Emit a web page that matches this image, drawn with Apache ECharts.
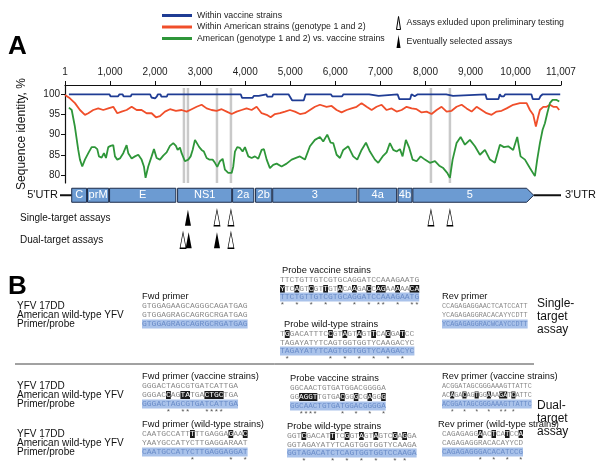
<!DOCTYPE html>
<html><head><meta charset="utf-8">
<script src="https://cdn.jsdelivr.net/npm/echarts@6/dist/echarts.min.js"></script>
<style>html,body{margin:0;padding:0;background:#fff}#c{width:600px;height:470px}</style>
</head><body><div id="c"></div>
<script>
// ---------- Panel A data ----------
const xTicks = [1, 1000, 2000, 3000, 4000, 5000, 6000, 7000, 8000, 9000, 10000, 11007];
const yTicks = [80, 85, 90, 95, 100];
const seriesNames = ['Within vaccine strains', 'Within American strains (genotype 1 and 2)', 'American (genotype 1 and 2) vs. vaccine strains'];
const withinVaccine = [[88,100],[990,100],[1010,99.5],[1180,99.5],[1210,100],[1280,100],[1300,99.5],[1460,99.5],[1480,100],[1890,100],[1920,99.2],[2000,99.0],[2040,99.5],[2060,100],[2120,100],[2140,99.4],[2260,99.4],[2280,100],[3900,100],[3930,99.1],[4160,99.1],[4190,99.6],[4300,99.6],[4330,100],[4470,100],[4490,99.4],[4600,99.4],[4620,100],[4960,100],[5000,99.6],[5040,98.5],[5300,98.5],[5340,100],[5900,100],[5930,99.5],[6150,99.5],[6180,100],[6750,100],[6780,99.6],[6960,99.6],[6990,100],[7380,100],[7420,98.8],[7660,98.8],[7690,100],[7730,100],[7760,99.5],[7800,99.6],[7830,100],[8460,100],[8490,99.6],[8610,99.6],[8640,100],[9330,100],[9360,98.8],[9620,98.8],[9650,100],[9680,99.5],[9740,99.5],[9770,100],[10350,100],[10380,98.8],[10520,98.8],[10550,99.5],[10600,100],[10990,100]];
const withinAmerican = [[1,99.8],[110,99],[222,97.8],[333,96.1],[443,94.9],[518,95.3],[628,96.1],[739,96.5],[850,96.1],[961,96.5],[1072,96.9],[1161,95.3],[1257,95.7],[1368,96.1],[1480,96.9],[1591,96.1],[1700,96.1],[1812,95.3],[1923,95.3],[2019,94.3],[2108,94.6],[2219,95.7],[2330,96.3],[2462,95.9],[2589,96.1],[2700,95.7],[2811,96.3],[2922,96.9],[3032,97.4],[3144,96.5],[3254,96.1],[3366,95.9],[3477,96.3],[3588,95.7],[3699,95.1],[3809,95.7],[3920,96.1],[4030,96.5],[4142,96.1],[4253,96.9],[4364,95.3],[4476,94.9],[4564,94.3],[4660,95.1],[4770,95.3],[4882,95.7],[4992,96.1],[5103,95.7],[5214,95.1],[5325,95.3],[5436,96.1],[5547,96.9],[5658,97.4],[5805,96.9],[5917,97.1],[6028,96.1],[6138,95.5],[6250,96.1],[6360,96.5],[6472,96.9],[6582,97.8],[6694,96.9],[6805,96.1],[6915,96.9],[7027,97.4],[7138,96.1],[7249,96.5],[7359,95.7],[7470,96.1],[7581,96.9],[7692,96.5],[7803,96.3],[7914,95.5],[8025,95.7],[8135,95.1],[8247,96.1],[8357,96.9],[8469,95.7],[8580,95.9],[8690,96.9],[8802,97.4],[8912,96.5],[9023,95.7],[9134,96.9],[9245,96.1],[9355,95.3],[9467,94.9],[9578,95.7],[9689,95.9],[9800,96.5],[9946,97.4],[10095,97.8],[10244,97.8],[10317,96.1],[10391,94.9],[10450,92],[10501,94.5],[10539,96.1],[10613,96.9],[10687,96.9],[10760,97.4],[10835,96.9],[10910,96.9],[10968,96.1]];
const americanVsVaccine = [[88,96.7],[150,96.1],[220,92],[295,86.2],[333,83.8],[384,82.1],[443,83.8],[518,85.4],[592,86.9],[665,86.9],[717,86.4],[754,84.6],[814,84.3],[865,85.4],[910,84.2],[961,86.9],[1013,87.2],[1072,87.4],[1110,84.6],[1161,83.8],[1220,84.1],[1294,85.4],[1368,87.4],[1405,85.4],[1480,84.1],[1553,84.6],[1627,85],[1700,83.8],[1752,82.1],[1789,79.3],[1848,82.1],[1923,84.6],[1975,86.4],[2034,84.2],[2108,83.8],[2181,84.8],[2256,85.6],[2330,87.2],[2403,87.9],[2462,87.2],[2500,86.2],[2552,86.8],[2589,85.4],[2662,83.4],[2736,83.8],[2789,84.6],[2833,86.2],[2885,88.7],[2922,88.5],[2980,86.9],[3032,86.2],[3083,85.8],[3144,84.2],[3201,83.8],[3277,83.8],[3328,83],[3379,82],[3439,83.4],[3499,84],[3550,81.3],[3623,80.5],[3699,80.5],[3735,82.1],[3772,85.8],[3823,86.9],[3883,86.7],[3942,85.8],[3994,86.9],[4068,84.6],[4142,84.2],[4215,84.6],[4290,84],[4364,86.2],[4415,86.4],[4476,83.8],[4548,81.7],[4621,82.5],[4697,82.8],[4807,82.1],[4918,82.8],[5030,83.8],[5140,84.3],[5214,84.6],[5325,83.8],[5436,87.1],[5547,88.7],[5658,89.4],[5731,88.3],[5820,90],[5895,88],[5953,87.9],[6028,85],[6102,84.2],[6175,86.2],[6286,87.1],[6396,84.6],[6486,83.8],[6582,86.2],[6679,88],[6767,85.8],[6878,83.8],[6952,83],[7049,84.6],[7138,85.6],[7211,87.9],[7285,86.2],[7359,85.8],[7433,86.4],[7492,84.6],[7565,88.7],[7640,86.7],[7714,83.8],[7803,83.4],[7892,84.6],[7987,83.8],[8098,83],[8210,83.4],[8305,82.3],[8394,81.7],[8482,80.5],[8542,79.3],[8602,83.8],[8690,87.9],[8780,89.4],[8875,87.5],[8986,88.7],[9097,87.1],[9208,85],[9319,86.2],[9430,83.8],[9540,83],[9652,87.5],[9740,86.9],[9836,87.1],[9946,86.2],[10036,89.4],[10110,84.6],[10207,83.8],[10317,81.7],[10428,79.7],[10479,83.8],[10539,87.9],[10599,91.2],[10650,92.8],[10702,95.3],[10760,97.8],[10820,98.6],[10910,98.6],[10968,98.2]];
const geneNames = ['C', 'prM', 'E', 'NS1', '2a', '2b', '3', '4a', '4b', '5'];
const geneStarts = [150, 500, 990, 2500, 3720, 4230, 4610, 6520, 7390, 7720];
const geneEnds = [480, 970, 2460, 3700, 4190, 4590, 6480, 7360, 7700, 10400];
const genomeEnd = 11007;
const utrLabels = ["5'UTR", "3'UTR"];
const assayPositions = [2640, 2729, 3373, 3683, 8121, 8542];
const assayRows = ['map', 'Single-target assays', 'Dual-target assays'];
const singleOpen = [3373, 3683, 8121, 8542];
const singleFilled = [2729];
const dualOpen = [2620, 3683];
const dualFilled = [2745, 3373];
const markerNames = ['Assays exluded upon preliminary testing', 'Eventually selected assays'];

// ---------- Panel B data ----------
const rowLabels = ['YFV 17DD', 'American wild-type YFV', 'Primer/probe'];
const sFwdTitle = 'Fwd primer';
const sFwdRows = ['GTGGAGAAGCAGGGCAGATGAG', 'GTGGAGRAGCAGRGCRGATGAG', 'GTGGAGRAGCAGRGCRGATGAG'];
const sFwdMarks = [];
const sProbeVTitle = 'Probe vaccine strains';
const sProbeVRows = ['TTCTGTTGTCGTGCAGGATCCAAAGAATG', 'YTCAGTCGTTGTACAAGACCAGAAAAACA', 'TTCTGTTGTCGTGCAGGATCCAAAGAATG'];
const sProbeVMarks = [0, 3, 6, 9, 12, 15, 18, 20, 21, 24, 27, 28];
const sProbeWTitle = 'Probe wild-type strains';
const sProbeWRows = ['TGGACATTTCCGTAGTAGTTCAGGATCC', 'TAGAYATYTCAGTGGTGGTYCAAGACYC', 'TAGAYATYTCAGTGGTGGTYCAAGACYC'];
const sProbeWMarks = [1, 10, 13, 16, 19, 22, 25];
const sRevTitle = 'Rev primer';
const sRevRows = ['CCAGAGAGGAACTCATCCATT', 'YCAGAGAGGRACACAYYCDTT', 'YCAGAGAGGRACWCAYCCDTT'];
const sRevMarks = [];
const dFwdVTitle = 'Fwd primer (vaccine strains)';
const dFwdVRows = ['GGGACTAGCGTGATCATTGA', 'GGGACCAGTATGACTGCTGA', 'GGGACTAGCGTGATCATTGA'];
const dFwdVMarks = [5, 8, 9, 13, 14, 15, 16];
const dProbeVTitle = 'Probe vaccine strains';
const dProbeVRows = ['GGCAACTGTGATGGACGGGGA', 'GGAGGTTGTGACGGGCGAGGG', 'GGCAACTGTGATGGACGGGGA'];
const dProbeVMarks = [2, 3, 4, 5, 11, 14, 17, 20];
const dRevVTitle = 'Rev primer (vaccine strains)';
const dRevVRows = ['ACGGATAGCGGGAAAGTTATTC', 'ACAGACAGTGGAAAGATCATTC', 'ACGGATAGCGGGAAAGTTATTC'];
const dRevVMarks = [2, 5, 8, 11, 14, 15, 17];
const dFwdWTitle = 'Fwd primer (wild-type strains)';
const dFwdWRows = ['CAATGCCATTTTTGAGGAGAAC', 'YAAYGCCATYCTTGAGGARAAT', 'CAATGCCATYCTTGAGGAGGAT'];
const dFwdWMarks = [10, 18, 21];
const dProbeWTitle = 'Probe wild-type strains';
const dProbeWRows = ['GGTCGACATTTCGGTAGTAGTCGAGGA', 'GGTAGAYATYTCAGTGGTGGTYCAAGA', 'GGTAGACATCTCAGTGGTGGTCCAAGA'];
const dProbeWMarks = [3, 9, 12, 15, 18, 22, 24];
const dRevWTitle = 'Rev primer (wild-type strains)';
const dRevWRows = ['CAGAGAGGAACTCATCCA', 'CAGAGAGGRACACAYYCD', 'CAGAGAGGGACACATCCG'];
const dRevWMarks = [8, 11, 14, 17];
const singleAssayText = 'Single-\ntarget\nassay';
const dualAssayText = 'Dual-\ntarget\nassay';

// ---------- build ----------
const SANS = '"Liberation Sans", Arial, sans-serif';
const MONO = '"Liberation Mono", "DejaVu Sans Mono", monospace';
const lineColors = ['#1f3c94', '#f04e2a', '#2e9639'];
const TRI = 'path://M5,0L10,32L0,32Z';

function seqRich(seq, marks, base) {
  let out = '', cur = '', curT = null;
  for (let i = 0; i < seq.length; i++) {
    const t = marks.includes(i) ? 'h' : base;
    if (t !== curT && cur) { out += '{' + curT + '|' + cur + '}'; cur = ''; }
    curT = t; cur += seq[i];
  }
  if (cur) out += '{' + curT + '|' + cur + '}';
  return out;
}
function starLine(len, marks) {
  let s = '';
  for (let i = 0; i < len; i++) s += marks.includes(i) ? '*' : ' ';
  return s;
}
function richStyles(fs) {
  return {
    n: { fill: '#8a8a8a', fontFamily: MONO, fontSize: fs, lineHeight: 9 },
    h: { fill: '#ffffff', backgroundColor: '#1b1b1b', fontFamily: MONO, fontSize: fs, lineHeight: 9 },
    b: { fill: '#6a8cc8', fontFamily: MONO, fontSize: fs, lineHeight: 9 }
  };
}
const graphics = [];
function txt(x, y, text, font, fill, extra) {
  graphics.push({ type: 'text', x: x, y: y, silent: true,
    style: Object.assign({ text: text, font: font, fill: fill || '#111', verticalAlign: 'middle' }, extra || {}) });
}
function block(x, titleX, titleY, rowYs, starY, title, rows, marks, hlRow, fs) {
  txt(titleX, titleY, title, '9.3px ' + SANS, '#111');
  rows.forEach((r, i) => {
    const base = i === 2 ? 'b' : 'n';
    const m = i === hlRow ? marks : [];
    const extra = { rich: richStyles(fs) };
    if (i === 2) { extra.backgroundColor = '#a9c2ea'; }
    txt(x, rowYs[i], seqRich(r, m, base), fs + 'px ' + MONO, '#8a8a8a', extra);
  });
  if (marks.length && starY) {
    txt(x, starY, starLine(rows[0].length, marks), fs + 'px ' + MONO, '#555');
  }
}
// panel letters
txt(8, 47, 'A', 'bold 26px ' + SANS, '#000');
txt(8, 287, 'B', 'bold 26px ' + SANS, '#000');
// left labels
[[306, 315, 324], [386, 395, 404], [434, 443, 452]].forEach(ys => {
  rowLabels.forEach((l, i) => txt(17, ys[i], l, '10px ' + SANS, '#111'));
});
// single-target blocks
block(142, 142, 296, [306, 315, 324], null, sFwdTitle, sFwdRows, sFwdMarks, -1, 8);
block(280, 282, 270, [280, 289, 297], 305, sProbeVTitle, sProbeVRows, sProbeVMarks, 1, 8);
block(280, 284, 324, [334, 343, 351], 359, sProbeWTitle, sProbeWRows, sProbeWMarks, 0, 8);
block(442, 442, 296, [306, 315, 324], null, sRevTitle, sRevRows, sRevMarks, -1, 6.8);
// dual-target blocks
block(142, 142, 376, [386, 395, 404], 412, dFwdVTitle, dFwdVRows, dFwdVMarks, 1, 8);
block(290, 290, 378, [388, 397, 406], 414, dProbeVTitle, dProbeVRows, dProbeVMarks, 1, 7.6);
block(442, 442, 376, [386, 395, 404], 412, dRevVTitle, dRevVRows, dRevVMarks, 1, 6.8);
block(142, 142, 424, [434, 443, 452], 460, dFwdWTitle, dFwdWRows, dFwdWMarks, 0, 8);
block(287, 287, 426, [436, 445, 453], 461, dProbeWTitle, dProbeWRows, dProbeWMarks, 0, 8);
block(442, 438, 424, [434, 443, 452], 460, dRevWTitle, dRevWRows, dRevWMarks, 0, 7.5);
// side labels
txt(537, 317, singleAssayText, '12px ' + SANS, '#111', { lineHeight: 13 });
txt(537, 419, dualAssayText, '12px ' + SANS, '#111', { lineHeight: 13 });
// divider
graphics.push({ type: 'line', silent: true, shape: { x1: 15, y1: 364, x2: 534, y2: 364 }, style: { stroke: '#444', lineWidth: 1 } });

const fmt = v => Number(v).toLocaleString('en-US');

const chart = echarts.init(document.getElementById('c'), null, { renderer: 'canvas' });
const option = {
  animation: false,
  backgroundColor: '#fff',
  textStyle: { fontFamily: SANS },
  grid: [
    { left: 65, right: 39, top: 85, height: 98 },
    { left: 65, right: 39, top: 184, height: 67.5 }
  ],
  legend: [
    { data: seriesNames, orient: 'vertical', left: 162, top: 11, itemWidth: 30, itemHeight: 3, icon: 'rect', itemGap: 2.5, padding: 0,
      textStyle: { fontSize: 8.8, color: '#222', fontFamily: SANS }, selectedMode: false },
    { data: [
        { name: markerNames[0], icon: TRI, itemStyle: { color: '#fff', borderColor: '#000', borderWidth: 1 } },
        { name: markerNames[1], icon: TRI, itemStyle: { color: '#000', borderWidth: 0 } }
      ],
      orient: 'vertical', left: 396, top: 16, itemWidth: 6, itemHeight: 13, itemGap: 5, padding: 0,
      textStyle: { fontSize: 8.8, color: '#222', fontFamily: SANS }, selectedMode: false }
  ],
  xAxis: [
    { type: 'value', gridIndex: 0, position: 'top', min: 1, max: genomeEnd,
      axisLine: { show: true, lineStyle: { color: '#111', width: 1.2 } },
      axisTick: { show: true, length: 4, customValues: xTicks, lineStyle: { color: '#111' } },
      axisLabel: { customValues: xTicks, formatter: fmt, fontSize: 10, color: '#222', margin: 8 },
      splitLine: { show: false } },
    { type: 'value', gridIndex: 1, min: 1, max: genomeEnd, show: false }
  ],
  yAxis: [
    { type: 'value', gridIndex: 0, min: 78, max: 102.3,
      name: 'Sequence identity, %', nameLocation: 'middle', nameGap: 37, nameRotate: 90,
      nameTextStyle: { fontSize: 12, color: '#111', fontFamily: SANS },
      axisLine: { show: true, lineStyle: { color: '#111', width: 1.2 } },
      axisTick: { show: true, length: 4, customValues: yTicks, lineStyle: { color: '#111' } },
      axisLabel: { customValues: yTicks, fontSize: 10, color: '#222', margin: 5 },
      splitLine: { show: false } },
    { type: 'category', gridIndex: 1, data: assayRows, inverse: true, show: false }
  ],
  series: [
    { type: 'custom', name: 'assay positions', xAxisIndex: 0, yAxisIndex: 0, z: 1, silent: true,
      data: assayPositions.map(p => [p]),
      renderItem: (params, api) => {
        const cs = params.coordSys;
        const x = api.coord([api.value(0), 90])[0];
        return { type: 'line', shape: { x1: x, y1: cs.y + 3, x2: x, y2: cs.y + cs.height }, style: { stroke: '#c9c9c9', lineWidth: 2.5 } };
      } },
    { type: 'line', name: seriesNames[0], data: withinVaccine, showSymbol: false, z: 3,
      lineStyle: { color: lineColors[0], width: 1.8 }, itemStyle: { color: lineColors[0] } },
    { type: 'line', name: seriesNames[1], data: withinAmerican, showSymbol: false, z: 3,
      lineStyle: { color: lineColors[1], width: 1.8 }, itemStyle: { color: lineColors[1] } },
    { type: 'line', name: seriesNames[2], data: americanVsVaccine, showSymbol: false, z: 3,
      lineStyle: { color: lineColors[2], width: 1.8 }, itemStyle: { color: lineColors[2] } },
    { type: 'custom', name: 'utr', xAxisIndex: 1, yAxisIndex: 1, silent: true, clip: false,
      data: [[1, geneStarts[0], 0, 0], [geneEnds[geneEnds.length - 1], genomeEnd, 0, 1]],
      renderItem: (params, api) => {
        const s = api.coord([api.value(0), api.value(2)]);
        const e = api.coord([api.value(1), api.value(2)]);
        const isLeft = api.value(3) === 0;
        const x1 = isLeft ? s[0] - 5 : s[0];
        return { type: 'group', children: [
          { type: 'line', shape: { x1: x1, y1: s[1], x2: e[0], y2: e[1] }, style: { stroke: '#111', lineWidth: 2 } },
          { type: 'text', x: isLeft ? x1 - 2 : e[0] + 4, y: s[1],
            style: { text: utrLabels[api.value(3)], font: '11px ' + SANS, fill: '#111', align: isLeft ? 'right' : 'left', verticalAlign: 'middle' } }
        ] };
      } },
    { type: 'custom', name: 'genes', xAxisIndex: 1, yAxisIndex: 1, silent: true, clip: false, z: 3,
      data: geneNames.map((n, i) => [geneStarts[i], geneEnds[i], 0, i]),
      renderItem: (params, api) => {
        const s = api.coord([api.value(0), api.value(2)]);
        const e = api.coord([api.value(1), api.value(2)]);
        const i = api.value(3);
        const h = 14, y = s[1];
        const style = { fill: '#6c9bd2', stroke: '#1c2b48', lineWidth: 1 };
        let shape, cx;
        if (i === geneNames.length - 1) {
          const body = e[0] - 7;
          shape = { type: 'polygon', shape: { points: [[s[0], y - h / 2], [body, y - h / 2], [e[0], y], [body, y + h / 2], [s[0], y + h / 2]] }, style };
          cx = (s[0] + body) / 2;
        } else {
          shape = { type: 'rect', shape: { x: s[0], y: y - h / 2, width: e[0] - s[0], height: h }, style };
          cx = (s[0] + e[0]) / 2;
        }
        return { type: 'group', children: [shape,
          { type: 'text', x: cx, y: y, style: { text: geneNames[i], font: '11px ' + SANS, fill: '#fff', align: 'center', verticalAlign: 'middle' } }] };
      } },
    { type: 'scatter', name: markerNames[0], xAxisIndex: 1, yAxisIndex: 1, z: 4, symbol: TRI, symbolSize: [6, 16],
      itemStyle: { color: '#fff', borderColor: '#000', borderWidth: 1, opacity: 1 },
      data: singleOpen.map(p => [p, 1]).concat(dualOpen.map(p => [p, 2])) },
    { type: 'scatter', name: markerNames[1], xAxisIndex: 1, yAxisIndex: 1, z: 5, symbol: TRI, symbolSize: [6, 16],
      itemStyle: { color: '#000', opacity: 1 },
      data: singleFilled.map(p => [p, 1]).concat(dualFilled.map(p => [p, 2])) },
    { type: 'custom', name: 'row labels', xAxisIndex: 1, yAxisIndex: 1, silent: true, clip: false,
      data: [[1, 1], [1, 2]],
      renderItem: (params, api) => {
        const p = api.coord([api.value(0), api.value(1)]);
        return { type: 'text', x: 20, y: p[1], style: { text: assayRows[api.value(1)], font: '10px ' + SANS, fill: '#111', verticalAlign: 'middle' } };
      } }
  ],
  graphic: graphics
};
chart.setOption(option);
</script>
</body></html>
